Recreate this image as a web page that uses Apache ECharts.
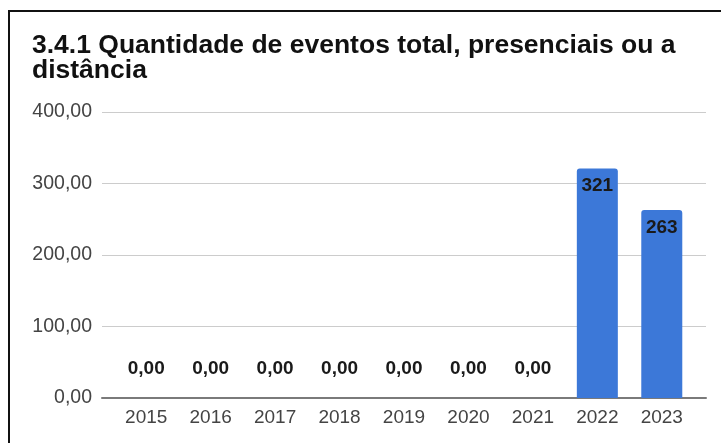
<!DOCTYPE html>
<html>
<head>
<meta charset="utf-8">
<script src="https://cdn.jsdelivr.net/npm/echarts@6/dist/echarts.min.js"></script>
<style>
  html, body { margin: 0; padding: 0; background: #fff; }
  #chart { width: 721px; height: 443px; }
</style>
</head>
<body>
<div id="chart"></div>
<script>
const titleText = '3.4.1 Quantidade de eventos total, presenciais ou a\ndistância';
const categories = ['2015', '2016', '2017', '2018', '2019', '2020', '2021', '2022', '2023'];
const values = [0, 0, 0, 0, 0, 0, 0, 321, 263];
const yTicks = [0, 100, 200, 300, 400];

const FONT = '"Liberation Sans", Arial, sans-serif';

const seriesData = values.map(function (v) {
  if (v === 0) {
    return { value: v, label: { position: 'top', distance: 20 } };
  }
  return { value: v, label: { position: 'insideTop', distance: 8 } };
});

const chart = echarts.init(document.getElementById('chart'), null, { renderer: 'canvas' });
chart.setOption({
  backgroundColor: '#ffffff',
  animation: false,
  title: {
    text: titleText,
    left: 32,
    top: 33,
    padding: 0,
    textStyle: {
      fontFamily: FONT,
      fontSize: 26.5,
      fontWeight: 'bold',
      color: '#111',
      lineHeight: 25
    }
  },
  graphic: [{
    type: 'rect',
    shape: { x: 9, y: 11, width: 800, height: 500 },
    style: { fill: 'none', stroke: '#111', lineWidth: 2 },
    silent: true,
    z: 100
  }],
  grid: [
    { left: 102, right: 15, top: 112, bottom: 45 },
    { left: 114, right: 27, top: 112, bottom: 45 }
  ],
  xAxis: [
    {
      gridIndex: 0, type: 'value', min: 0, max: 1,
      axisLine: { show: true, onZero: false, lineStyle: { color: '#7a7a7a', width: 2 } },
      axisTick: { show: false }, axisLabel: { show: false }, splitLine: { show: false }
    },
    {
      gridIndex: 1, type: 'category', data: categories,
      axisLine: { show: false }, axisTick: { show: false },
      axisLabel: { fontFamily: FONT, fontSize: 19, color: '#444', margin: 10 }
    }
  ],
  yAxis: [
    {
      gridIndex: 0, type: 'value', min: yTicks[0], max: yTicks[yTicks.length - 1], interval: 100,
      axisLine: { show: false }, axisTick: { show: false },
      axisLabel: {
        fontFamily: FONT, fontSize: 19.5, color: '#444', margin: 10,
        formatter: function (v) { return v.toFixed(2).replace('.', ','); }
      },
      splitLine: { lineStyle: { color: '#cccccc', width: 1 } }
    },
    {
      gridIndex: 1, type: 'value', min: yTicks[0], max: yTicks[yTicks.length - 1], interval: 100,
      show: false, splitLine: { show: false }
    }
  ],
  series: [{
    type: 'bar',
    xAxisIndex: 1,
    yAxisIndex: 1,
    data: seriesData,
    barWidth: 41,
    itemStyle: { color: '#3c78d8', borderRadius: [3, 3, 0, 0] },
    label: {
      show: true,
      fontFamily: FONT,
      fontSize: 19,
      fontWeight: 'bold',
      color: '#1a1a1a',
      formatter: function (p) {
        return p.value === 0 ? '0,00' : String(p.value);
      }
    }
  }]
});
</script>
</body>
</html>
